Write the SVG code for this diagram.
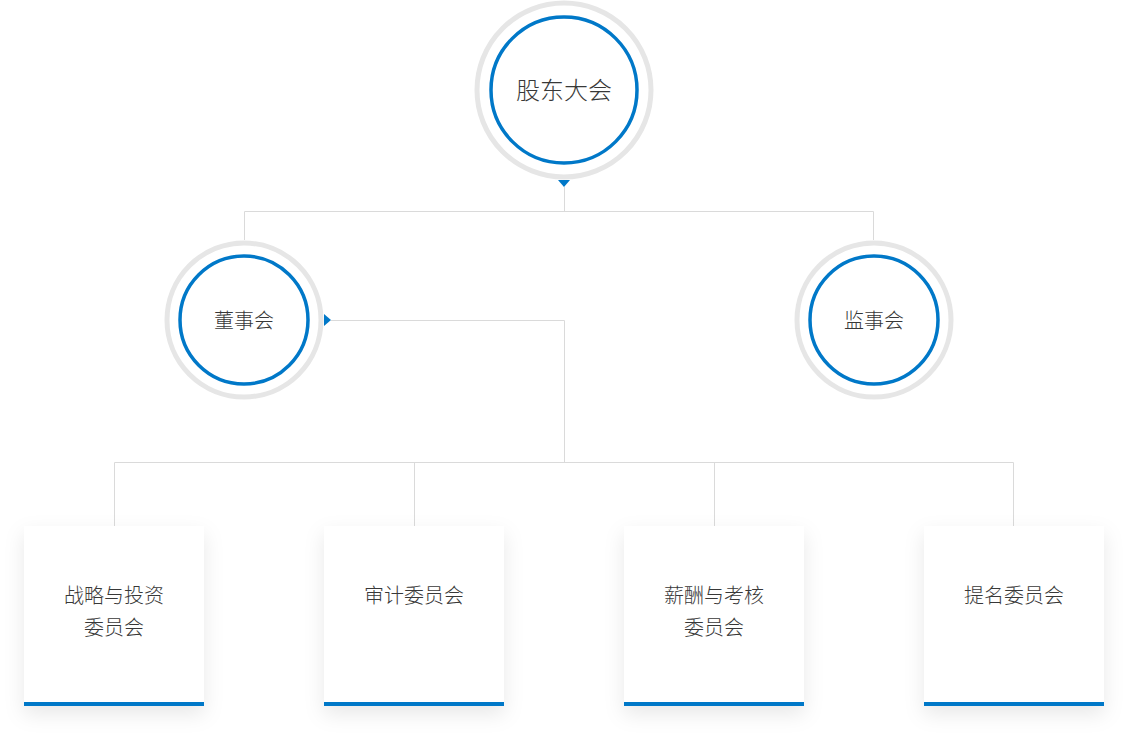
<svg xmlns="http://www.w3.org/2000/svg" width="1128" height="740" viewBox="0 0 1128 740">
<defs>
<style>
.ring{fill:#fff;stroke:#e6e6e6;stroke-width:5}
.blue{fill:#fff;stroke:#0078c8;stroke-width:3.5}
.line{fill:none;stroke:#dadada;stroke-width:1}
.t{font-family:"Noto Sans CJK SC","Noto Sans",sans-serif;fill:#383838;text-anchor:middle;font-weight:300}
.box{fill:#fff}
.bar{fill:#0078c8}
</style>
<filter id="sh" x="-30%" y="-30%" width="160%" height="170%">
<feDropShadow dx="0" dy="8" stdDeviation="10" flood-color="#000" flood-opacity="0.09"/>
</filter>
</defs>
<rect width="1128" height="740" fill="#fff"/>
<g id="connectors">
<path class="line" d="M564.5 187V211.5M244.5 240V211.5H873.5V240"/>
<path class="line" d="M331 320.5H564.5V462.5M114.5 526V462.5H1013.5V526M414.5 462.5V526M714.5 462.5V526"/>
<polygon points="558,180 570,180 564,187" fill="#0078c8"/>
<polygon points="324,314 324,326 331,320" fill="#0078c8"/>
</g>
<g id="gudong">
<circle class="ring" cx="564" cy="90" r="87"/>
<circle class="blue" cx="564" cy="90" r="73"/>
<text class="t" x="564" y="98.5" font-size="24">股东大会</text>
</g>
<g id="dongshi">
<circle class="ring" cx="244" cy="320" r="77"/>
<circle class="blue" cx="244" cy="320" r="64"/>
<text class="t" x="244" y="328" font-size="20">董事会</text>
</g>
<g id="jianshi">
<circle class="ring" cx="874" cy="320" r="77"/>
<circle class="blue" cx="874" cy="320" r="64"/>
<text class="t" x="874" y="328" font-size="20">监事会</text>
</g>
<g id="zhanlue">
<rect class="box" x="24" y="526" width="180" height="180" filter="url(#sh)"/>
<rect class="bar" x="24" y="702" width="180" height="4"/>
<text class="t" x="114" y="603" font-size="20">战略与投资</text>
<text class="t" x="114" y="635" font-size="20">委员会</text>
</g>
<g id="shenji">
<rect class="box" x="324" y="526" width="180" height="180" filter="url(#sh)"/>
<rect class="bar" x="324" y="702" width="180" height="4"/>
<text class="t" x="414" y="603" font-size="20">审计委员会</text>
</g>
<g id="xinchou">
<rect class="box" x="624" y="526" width="180" height="180" filter="url(#sh)"/>
<rect class="bar" x="624" y="702" width="180" height="4"/>
<text class="t" x="714" y="603" font-size="20">薪酬与考核</text>
<text class="t" x="714" y="635" font-size="20">委员会</text>
</g>
<g id="timing">
<rect class="box" x="924" y="526" width="180" height="180" filter="url(#sh)"/>
<rect class="bar" x="924" y="702" width="180" height="4"/>
<text class="t" x="1014" y="603" font-size="20">提名委员会</text>
</g>
</svg>
